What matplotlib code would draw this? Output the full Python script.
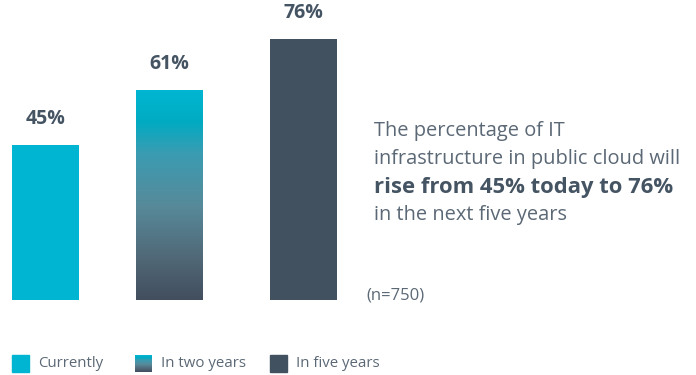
import numpy as np
import matplotlib
matplotlib.use("Agg")
import matplotlib.pyplot as plt
from matplotlib.colors import LinearSegmentedColormap
from matplotlib.patches import Rectangle

plt.rcParams['font.family'] = ['Open Sans', 'DejaVu Sans']

# --- data ---
categories = ["Currently", "In two years", "In five years"]
values = [45, 61, 76]
value_labels = ["45%", "61%", "76%"]
sample_note = "(n=750)"

CYAN = "#00b5d1"
SLATE = "#425160"
TEXT = "#5b6875"
LABEL = "#455463"

# cyan -> slate fade used by the middle bar
fade = LinearSegmentedColormap.from_list(
    "fade",
    [(0.0, "#00b6d2"), (0.15, "#00abc2"), (0.3, "#3a9cb2"),
     (0.55, "#578a9a"), (0.8, "#506877"), (1.0, "#424e5e")])

fig = plt.figure(figsize=(6.96, 3.75), dpi=100)
ax = fig.add_axes([0, 0, 1, 1])
px = 3.44  # pixels per percent
ax.set_xlim(0, 696)
ax.set_ylim(-75 / px, 300 / px)
ax.axis("off")

centers = [45.5, 169, 303.5]
width = 67

for i, (c, v, lab) in enumerate(zip(centers, values, value_labels)):
    if i == 1:
        grad = np.linspace(0, 1, 256).reshape(-1, 1)
        ax.imshow(grad, cmap=fade, aspect="auto", interpolation="bilinear",
                  extent=(c - width / 2, c + width / 2, 0, v), zorder=2)
    else:
        col = CYAN if i == 0 else SLATE
        ax.bar(c, v, width=width, color=col, zorder=2)
    ax.text(c, v + 26 / px, lab, ha="center", va="center", fontsize=14,
            fontweight="bold", color=LABEL)

# annotation on the right
x0 = 374
ax.text(x0, 169 / px, "The percentage of IT", fontsize=14.4, color=TEXT, va="center")
ax.text(x0, 141 / px, "infrastructure in public cloud will", fontsize=14.4,
        color=TEXT, va="center")
ax.text(x0, 113 / px, "rise from 45% today to 76%", fontsize=15.8,
        color=LABEL, fontweight="bold", va="center")
ax.text(x0, 85 / px, "in the next five years", fontsize=14.4, color=TEXT, va="center")
ax.text(366, 5 / px, sample_note, fontsize=12, color=TEXT, va="center")

# legend along the bottom
leg_x = [12, 135, 270]
ly = -63.5 / px
for i, (lx, name) in enumerate(zip(leg_x, categories)):
    if i == 1:
        grad = np.linspace(0, 1, 64).reshape(-1, 1)
        ax.imshow(grad, cmap=fade, aspect="auto",
                  extent=(lx, lx + 17, ly - 8.5 / px, ly + 8.5 / px), zorder=2)
    else:
        ax.add_patch(Rectangle((lx, ly - 8.5 / px), 17, 17 / px,
                               color=CYAN if i == 0 else SLATE))
    ax.text(lx + 26, ly, name, fontsize=10.8, color=TEXT, va="center")

fig.savefig("out.png", dpi=100)
